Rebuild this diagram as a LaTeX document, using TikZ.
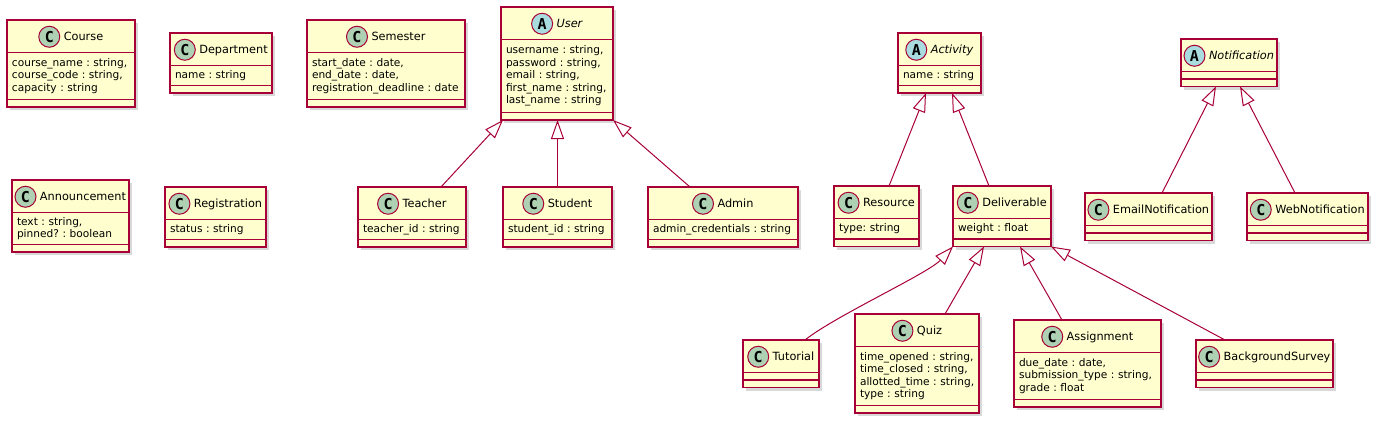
\documentclass[tikz,border=0pt]{standalone}
\usepackage{fontspec}
\setmainfont{DejaVu Sans}
\newfontfamily\spotfont{DejaVu Sans Mono}
\usetikzlibrary{positioning, calc, shadows, arrows.meta}
\frenchspacing

\definecolor{umlred}{HTML}{A80036}
\definecolor{umlfill}{HTML}{FEFECE}
\definecolor{umlgreen}{HTML}{ADD1B2}
\definecolor{umlblue}{HTML}{A9DCDF}

\begin{document}
\begin{tikzpicture}[%
        x = 1pt, y = -1pt,
        classbox/.style = {%
            draw = umlred, fill = umlfill, line width = 1.2pt, outer sep = 0pt,
            drop shadow = {opacity = 0.3, shadow xshift = 3pt, shadow yshift = -3pt}
        },
        classhead/.style = {%
            classbox, anchor = north west, minimum height = 32.5pt, inner xsep = 1pt,
            text height = 9pt, text depth = 1pt, font = \fontsize{11.3}{13}\selectfont,
            execute at begin node = {\hspace*{25pt}}
        },
        classattrs/.style = {%
            classbox, inner xsep = 5pt, inner ysep = 0pt, align = left,
            font = \fontsize{10.6}{12.6}\selectfont
        },
        classfoot/.style = {classbox, minimum height = 7.5pt, inner sep = 0pt},
        classicon/.style = {%
            circle, draw = umlred, line width = 1pt, fill = #1, minimum size = 21pt,
            inner sep = 0pt, font = \spotfont\bfseries\fontsize{15}{15}\selectfont
        },
        extends/.style = {%
            draw = umlred, line width = 1pt,
            -{Triangle[length = 19pt, width = 13pt, fill = white]}
        }
    ]

        \path[use as bounding box, fill = white] (0, 0) rectangle (1381, 426);

        % Classes without relations.
        \node[classhead, minimum width = 128pt] (course) at (7, 20) {Course};
        \node[classattrs, text width = 118pt, minimum height = 47pt, below = 0pt of course] (course-a)
            {course\_name : string,\\course\_code : string,\\capacity : string};
        \node[classfoot, minimum width = 128pt, below = 0pt of course-a] (course-f) {};

        \node[classhead, minimum width = 102pt] (department) at (170, 33) {Department};
        \node[classattrs, text width = 92pt, minimum height = 20pt, below = 0pt of department] (department-a)
            {name : string};
        \node[classfoot, minimum width = 102pt, below = 0pt of department-a] (department-f) {};

        \node[classhead, minimum width = 158pt] (semester) at (307, 20) {Semester};
        \node[classattrs, text width = 148pt, minimum height = 47pt, below = 0pt of semester] (semester-a)
            {start\_date : date,\\end\_date : date,\\registration\_deadline~:~date};
        \node[classfoot, minimum width = 158pt, below = 0pt of semester-a] (semester-f) {};

        \node[classhead, minimum width = 117pt] (announcement) at (12, 180) {Announcement};
        \node[classattrs, text width = 107pt, minimum height = 32pt, below = 0pt of announcement] (announcement-a)
            {text : string,\\pinned? : boolean};
        \node[classfoot, minimum width = 117pt, below = 0pt of announcement-a] (announcement-f) {};

        \node[classhead, minimum width = 101pt] (registration) at (165, 187) {Registration};
        \node[classattrs, text width = 91pt, minimum height = 20pt, below = 0pt of registration] (registration-a)
            {status : string};
        \node[classfoot, minimum width = 101pt, below = 0pt of registration-a] (registration-f) {};

        % User and its subclasses.
        \node[classhead, minimum width = 112pt] (user) at (501, 7) {\itshape User};
        \node[classattrs, text width = 102pt, minimum height = 73pt, below = 0pt of user] (user-a)
            {username : string,\\password : string,\\email : string,\\first\_name~:~string,\\last\_name : string};
        \node[classfoot, minimum width = 112pt, below = 0pt of user-a] (user-f) {};

        \node[classhead, minimum width = 108pt] (teacher) at (358, 187) {Teacher};
        \node[classattrs, text width = 98pt, minimum height = 20pt, below = 0pt of teacher] (teacher-a)
            {teacher\_id : string};
        \node[classfoot, minimum width = 108pt, below = 0pt of teacher-a] (teacher-f) {};

        \node[classhead, minimum width = 109pt] (student) at (503, 187) {Student};
        \node[classattrs, text width = 99pt, minimum height = 20pt, below = 0pt of student] (student-a)
            {student\_id : string};
        \node[classfoot, minimum width = 109pt, below = 0pt of student-a] (student-f) {};

        \node[classhead, minimum width = 150pt] (admin) at (648, 187) {Admin};
        \node[classattrs, text width = 140pt, minimum height = 20pt, below = 0pt of admin] (admin-a)
            {admin\_credentials~:~string};
        \node[classfoot, minimum width = 150pt, below = 0pt of admin-a] (admin-f) {};

        % Activity and its subclasses.
        \node[classhead, minimum width = 83pt] (activity) at (898, 33) {\itshape Activity};
        \node[classattrs, text width = 73pt, minimum height = 20pt, below = 0pt of activity] (activity-a)
            {name : string};
        \node[classfoot, minimum width = 83pt, below = 0pt of activity-a] (activity-f) {};

        \node[classhead, minimum width = 85pt] (resource) at (834, 186) {Resource};
        \node[classattrs, text width = 75pt, minimum height = 20.5pt, below = 0pt of resource] (resource-a)
            {type: string};
        \node[classfoot, minimum width = 85pt, below = 0pt of resource-a] (resource-f) {};

        \node[classhead, minimum width = 98pt] (deliverable) at (953, 186) {Deliverable};
        \node[classattrs, text width = 88pt, minimum height = 20.5pt, below = 0pt of deliverable] (deliverable-a)
            {weight : float};
        \node[classfoot, minimum width = 98pt, below = 0pt of deliverable-a] (deliverable-f) {};

        % Deliverable subclasses.
        \node[classhead, minimum width = 76pt] (tutorial) at (743, 340) {Tutorial};
        \node[classfoot, minimum width = 76pt, below = 0pt of tutorial] (tutorial-a) {};
        \node[classfoot, minimum width = 76pt, below = 0pt of tutorial-a] (tutorial-f) {};

        \node[classhead, minimum width = 124pt] (quiz) at (855, 314) {Quiz};
        \node[classattrs, text width = 114pt, minimum height = 59pt, below = 0pt of quiz] (quiz-a)
            {time\_opened~:~string,\\time\_closed~:~string,\\allotted\_time~:~string,\\type : string};
        \node[classfoot, minimum width = 124pt, below = 0pt of quiz-a] (quiz-f) {};

        \node[classhead, minimum width = 147pt] (assignment) at (1014, 320) {Assignment};
        \node[classattrs, text width = 137pt, minimum height = 47pt, below = 0pt of assignment] (assignment-a)
            {due\_date : date,\\submission\_type~:~string,\\grade : float};
        \node[classfoot, minimum width = 147pt, below = 0pt of assignment-a] (assignment-f) {};

        \node[classhead, minimum width = 137pt] (survey) at (1196, 340) {BackgroundSurvey};
        \node[classfoot, minimum width = 137pt, below = 0pt of survey] (survey-a) {};
        \node[classfoot, minimum width = 137pt, below = 0pt of survey-a] (survey-f) {};

        % Notification and its subclasses.
        \node[classhead, minimum width = 96pt] (notification) at (1181, 39) {\itshape Notification};
        \node[classfoot, minimum width = 96pt, below = 0pt of notification] (notification-a) {};
        \node[classfoot, minimum width = 96pt, below = 0pt of notification-a] (notification-f) {};

        \node[classhead, minimum width = 127pt] (email) at (1085, 193) {EmailNotification};
        \node[classfoot, minimum width = 127pt, below = 0pt of email] (email-a) {};
        \node[classfoot, minimum width = 127pt, below = 0pt of email-a] (email-f) {};

        \node[classhead, minimum width = 121pt] (web) at (1247, 193) {WebNotification};
        \node[classfoot, minimum width = 121pt, below = 0pt of web] (web-a) {};
        \node[classfoot, minimum width = 121pt, below = 0pt of web-a] (web-f) {};

        % Spots in front of the class names.
        \foreach \n/\col/\k in {course/umlgreen/C, department/umlgreen/C, semester/umlgreen/C,
                announcement/umlgreen/C, registration/umlgreen/C, user/umlblue/A,
                teacher/umlgreen/C, student/umlgreen/C, admin/umlgreen/C,
                activity/umlblue/A, resource/umlgreen/C, deliverable/umlgreen/C,
                tutorial/umlgreen/C, quiz/umlgreen/C, assignment/umlgreen/C, survey/umlgreen/C,
                notification/umlblue/A, email/umlgreen/C, web/umlgreen/C}{%
            \node[classicon = \col] (\n-i) at ($(\n.text) + (10.5, -3.5)$) {\k};
        }

        % Generalisations.
        \draw[extends] ($(teacher.north) + (29, 0)$) -- ($(user-f.south west) + (2, 0)$);
        \draw[extends] (student.north) -- (student.north |- user-f.south);
        \draw[extends] ($(admin.north) + (-33, 0)$) -- (user-f.south east);

        \draw[extends] ($(resource.north) + (12.5, 0)$) -- ($(activity-f.south) + (-13.5, 0)$);
        \draw[extends] ($(deliverable.north) + (-13, 0)$) -- ($(activity-f.south) + (12.5, 0)$);

        \draw[extends] ($(tutorial.north) + (24, 0)$) .. controls +(30, -24) and +(-25, 27) .. (deliverable-f.south west);
        \draw[extends] ($(quiz.north) + (28, 0)$) -- ($(deliverable-f.south) + (-18, 0)$);
        \draw[extends] ($(assignment.north) + (-25.5, 0)$) -- ($(deliverable-f.south) + (18, 0)$);
        \draw[extends] ($(survey.north) + (-39.5, 0)$) -- (deliverable-f.south east);

        \draw[extends] ($(email.north) + (13.5, 0)$) -- ($(notification-f.south) + (-13, 0)$);
        \draw[extends] ($(web.north) + (-12.5, 0)$) -- ($(notification-f.south) + (11, 0)$);
    \end{tikzpicture}
\end{document}
